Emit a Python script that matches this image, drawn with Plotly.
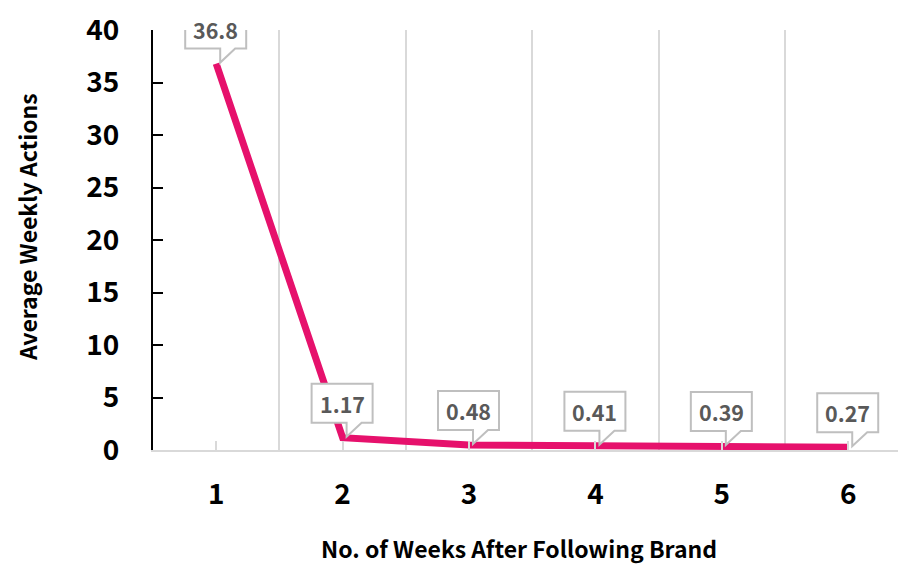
import plotly.graph_objects as go

weeks = [1, 2, 3, 4, 5, 6]
actions = [36.8, 1.17, 0.48, 0.41, 0.39, 0.27]
label_text = ["36.8", "1.17", "0.48", "0.41", "0.39", "0.27"]
y_ticks = [0, 5, 10, 15, 20, 25, 30, 35, 40]
x_title = "No. of Weeks After Following Brand"
y_title = "Average Weekly Actions"

FONT = "Noto Sans CJK SC"
LINE_COLOR = "#E6116C"
GRID = "#D9D9D9"

fig = go.Figure()
fig.add_trace(go.Scatter(
    x=weeks, y=actions, mode="lines",
    line=dict(color=LINE_COLOR, width=7),
    hoverinfo="skip", showlegend=False,
))

callout = "M -31,15 L 4,15 L 4,1 L 19,15 L 30,15 L 30,54 L -31,54 Z"
for xv, yv, t in zip(weeks, actions, label_text):
    fig.add_shape(
        type="path", path=callout,
        xref="x", yref="y", xsizemode="pixel", ysizemode="pixel",
        xanchor=xv, yanchor=yv,
        line=dict(color="#BFBFBF", width=2), fillcolor="white", layer="above",
    )
    fig.add_annotation(
        x=xv, y=yv, text=t, showarrow=False,
        xshift=-0.5, yshift=34.5,
        font=dict(family=FONT, size=21.5, color="#595959", weight="bold"),
    )

fig.add_annotation(
    xref="paper", yref="paper", x=(519 - 153) / 753, y=(450 - 548) / 420,
    text=x_title, showarrow=False, xanchor="center", yanchor="middle",
    font=dict(family=FONT, size=23, color="black", weight="bold"),
)
fig.add_annotation(
    xref="paper", yref="paper", x=(27 - 153) / 753, y=(450 - 227) / 420,
    text=y_title, showarrow=False, textangle=-90, xanchor="center", yanchor="middle",
    font=dict(family=FONT, size=23, color="black", weight="bold"),
)

# page body adds an 8px offset, so the figure is 8px smaller than the window
fig.update_layout(
    width=898, height=557,
    margin=dict(l=145, r=0, t=22, b=115),
    plot_bgcolor="white", paper_bgcolor="white",
    font=dict(family=FONT, color="black"),
    xaxis=dict(
        range=[0.5, 6.457], automargin=False,
        tickvals=weeks, ticktext=[str(w) for w in weeks],
        ticks="inside", ticklen=9, tickwidth=2, tickcolor=GRID,
        showline=True, linecolor=GRID, linewidth=2,
        showgrid=False, zeroline=False,
        minor=dict(tick0=0.5, dtick=1, showgrid=True, gridcolor=GRID, gridwidth=2),
        tickfont=dict(family=FONT, size=28, color="black", weight="bold"),
        ticklabelstandoff=18, ticklabeloverflow="allow",
    ),
    yaxis=dict(
        range=[0, 40], automargin=False,
        tickvals=y_ticks,
        ticks="inside", ticklen=10, tickwidth=2, tickcolor="black",
        showline=True, linecolor="black", linewidth=2,
        showgrid=False, zeroline=False,
        tickfont=dict(family=FONT, size=28, color="black", weight="bold"),
        ticklabelstandoff=26, ticklabeloverflow="allow",
    ),
)

fig.write_html("out.html")
